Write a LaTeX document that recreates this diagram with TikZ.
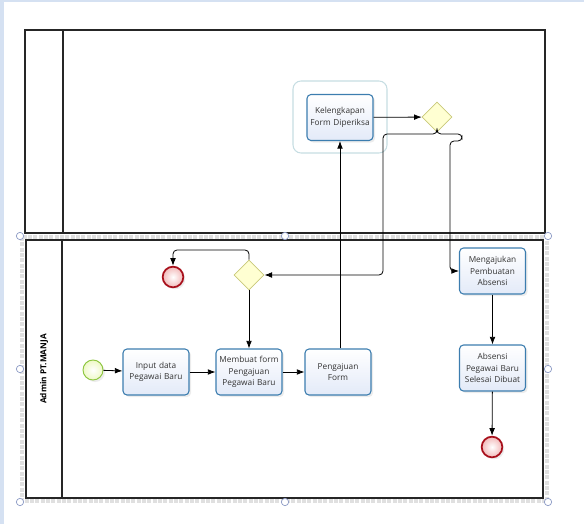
\documentclass[tikz,border=0pt]{standalone}
\usepackage{fontspec}
\setmainfont{Open Sans}
\usetikzlibrary{arrows.meta,shapes.geometric,shadows}

\definecolor{taskline}{HTML}{3C7DAF}
\definecolor{taskfill}{HTML}{E3EAF8}
\definecolor{gateline}{HTML}{C9C97A}
\definecolor{gatefill}{HTML}{FFFFD2}
\definecolor{endline}{HTML}{A8101C}
\definecolor{endfill}{HTML}{F2B9B9}
\definecolor{startline}{HTML}{8DC63F}
\definecolor{startfill}{HTML}{EEF9C6}
\definecolor{groupline}{HTML}{C6DDE2}
\definecolor{uiblue}{HTML}{D5E1F2}
\definecolor{handle}{HTML}{8A98C4}

\begin{document}
\begin{tikzpicture}[x=0.75pt,y=-0.75pt,>=Latex,
task box/.style={draw=taskline,line width=0.8pt,rounded corners=3pt,top color=white,bottom color=taskfill,minimum width=49.5pt,minimum height=34.5pt,text width=45pt,align=center,inner sep=1pt,text=black!80,font=\fontsize{6.2}{8.6}\selectfont,drop shadow={opacity=0.15,shadow xshift=1.5pt,shadow yshift=-1.5pt}},
gate/.style={diamond,aspect=1,draw=gateline,fill=gatefill,minimum size=22.5pt,inner sep=0pt,line width=0.6pt},
end event/.style={circle,draw=endline,line width=1.3pt,inner color=white,outer color=endfill,minimum size=15.5pt,inner sep=0pt,drop shadow={opacity=0.15,shadow xshift=1.5pt,shadow yshift=-1.5pt}},
start event/.style={circle,draw=startline,line width=0.7pt,inner color=white,outer color=startfill,minimum size=15pt,inner sep=0pt,drop shadow={opacity=0.15,shadow xshift=1.5pt,shadow yshift=-1.5pt}},
flow/.style={->,line width=0.6pt,rounded corners=3pt},
pool/.style={draw=black!85,line width=0.8pt},
sel handle/.style={circle,draw=handle,fill=white,line width=0.5pt,minimum size=5.5pt,inner sep=0pt}]
\useasboundingbox (0,0) rectangle (584,524);
% window frame
\fill[uiblue] (0,0) rectangle (584,2.5);
\fill[uiblue] (0,0) rectangle (4,524);
% selection frame round the lower pool
\draw[black!12,line width=3pt,densely dotted] (22,237) rectangle (547,501);
% pools
\draw[pool] (25,30) rectangle (545,233);
\draw[pool] (63,30) -- (63,233);
\draw[pool] (26,240) rectangle (543,498);
\draw[pool] (62,240) -- (62,498);
\node[rotate=90,font=\bfseries\fontsize{6.2}{7}\selectfont] (lane) at (44,369) {Admin PT.MANJA};
% group
\draw[groupline,line width=0.8pt,rounded corners=6pt] (293,81) rectangle (387,153);
% nodes
\node[task box] (kelengkapan) at (340,117.5) {Kelengkapan Form Diperiksa};
\node[gate] (gtop) at (437,117) {};
\node[start event] (start) at (93,370) {};
\node[task box] (input) at (156,372) {Input data Pegawai Baru};
\node[task box] (membuat) at (249,372) {Membuat form Pengajuan Pegawai Baru};
\node[task box] (pengajuan) at (338,372) {Pengajuan Form};
\node[gate] (gbot) at (249,275) {};
\node[end event] (endtop) at (173,277) {};
\node[task box] (ajukan) at (492.5,271) {Mengajukan Pembuatan Absensi};
\node[task box] (absensi) at (492.5,368) {Absensi Pegawai Baru Selesai Dibuat};
\node[end event] (endbot) at (492,447) {};
% flows
\draw[flow] (start) -- (input);
\draw[flow] (input) -- (membuat);
\draw[flow] (membuat) -- (pengajuan);
\draw[flow] (pengajuan.north -| kelengkapan.south) -- (kelengkapan.south);
\draw[flow] (kelengkapan) -- (gtop);
\draw[flow] (gtop.south) -- (437,134) -- (383,134) -- (383,275) -- (gbot.east);
\draw[flow] (gtop.south) -- (437,134) -- (462,134) -- (462,141) -- (450,141) |- (ajukan.west);
\draw[flow] (gbot.north) -- (249,250) -- (173,250) -- (endtop.north);
\draw[flow] (gbot) -- (membuat);
\draw[flow] (ajukan) -- (absensi);
\draw[flow] (absensi) -- (endbot);
% selection handles
\foreach \hx/\hy in {20/236,285/236,548/236,20/369,548/369,20/502,285/502,548/502}
  \node[sel handle] at (\hx,\hy) {};
\end{tikzpicture}
\end{document}
